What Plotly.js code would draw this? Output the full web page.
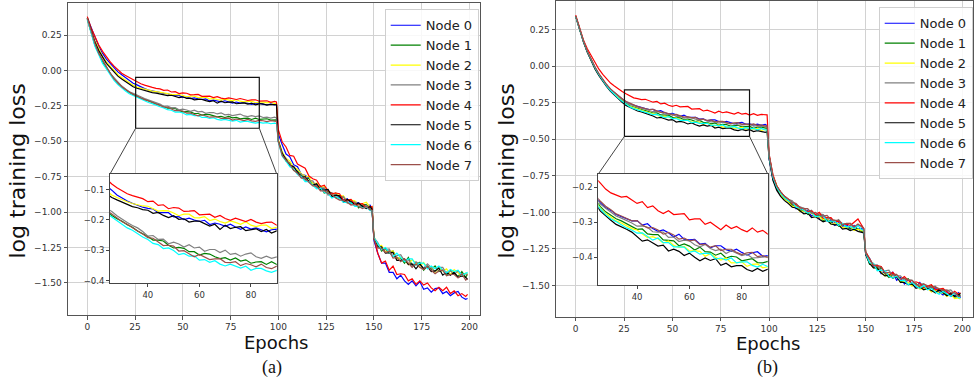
<!DOCTYPE html>
<html><head><meta charset="utf-8">
<script src="https://cdn.plot.ly/plotly-3.0.1.min.js"></script>
<style>html,body{margin:0;padding:0;background:#fff;} #chart{width:974px;height:381px;}</style>
</head><body><div id="chart"></div>
<script>
// ---------------- DATA ----------------
const epochs = [0,2,4,6,8,10,12,14,16,18,20,22,24,26,28,30,32,34,36,38,40,42,44,46,48,50,52,54,56,58,60,62,64,66,68,70,72,74,76,78,80,82,84,86,88,90,92,94,96,98,99,
100,102,104,106,108,110,112,114,116,118,120,122,124,126,128,130,132,134,136,138,140,142,144,146,148,149,
150,152,154,156,158,160,162,164,166,168,170,172,174,176,178,180,182,184,186,188,190,192,194,196,198,199];

const nodeNames = ['Node 0','Node 1','Node 2','Node 3','Node 4','Node 5','Node 6','Node 7'];
const nodeColors = ['#0000ff','#008000','#ffff00','#808080','#ff0000','#000000','#00ffff','#9b4f4a'];

// panel (a)
const a_node0 = [0.37,0.30,0.23,0.17,0.12,0.08,0.05,0.02,-0.01,-0.03,
-0.05,-0.07,-0.09,-0.102,-0.118,-0.128,-0.138,-0.145,-0.152,-0.158,
-0.162,-0.164,-0.176,-0.176,-0.176,-0.19,-0.189,-0.199,-0.194,-0.2,
-0.205,-0.201,-0.215,-0.21,-0.214,-0.221,-0.214,-0.223,-0.231,-0.223,
-0.23,-0.226,-0.232,-0.239,-0.232,-0.23,-0.239,-0.242,-0.237,-0.243,-0.24,
-0.45,-0.525,-0.59,-0.61,-0.665,-0.68,-0.735,-0.74,-0.76,-0.80,
-0.805,-0.84,-0.83,-0.855,-0.88,-0.865,-0.895,-0.915,-0.905,-0.94,
-0.93,-0.935,-0.96,-0.955,-0.95,-0.975,
-1.20,-1.29,-1.36,-1.36,-1.425,-1.425,-1.47,-1.445,-1.485,-1.51,
-1.485,-1.52,-1.49,-1.545,-1.535,-1.565,-1.54,-1.535,-1.575,-1.56,
-1.59,-1.57,-1.56,-1.60,-1.615,-1.61];
const a_node1 = [0.36,0.26,0.18,0.12,0.06,0.02,-0.02,-0.06,-0.09,-0.115,
-0.135,-0.155,-0.17,-0.185,-0.196,-0.204,-0.216,-0.224,-0.236,-0.244,
-0.254,-0.266,-0.266,-0.269,-0.283,-0.292,-0.29,-0.293,-0.304,-0.304,
-0.315,-0.31,-0.312,-0.321,-0.327,-0.324,-0.332,-0.325,-0.335,-0.331,
-0.342,-0.338,-0.337,-0.346,-0.337,-0.346,-0.346,-0.341,-0.35,-0.346,-0.349,
-0.50,-0.58,-0.64,-0.655,-0.705,-0.71,-0.74,-0.77,-0.76,-0.805,
-0.825,-0.815,-0.865,-0.855,-0.865,-0.895,-0.90,-0.89,-0.935,-0.93,
-0.93,-0.97,-0.95,-0.945,-0.98,-0.975,
-1.19,-1.225,-1.275,-1.255,-1.29,-1.275,-1.325,-1.325,-1.36,-1.32,
-1.375,-1.37,-1.355,-1.41,-1.38,-1.405,-1.38,-1.42,-1.41,-1.445,
-1.41,-1.43,-1.455,-1.42,-1.46,-1.435];
const a_node2 = [0.37,0.28,0.21,0.15,0.10,0.06,0.03,0.0,-0.03,-0.05,
-0.07,-0.09,-0.105,-0.118,-0.126,-0.134,-0.14,-0.146,-0.15,-0.154,
-0.155,-0.164,-0.171,-0.169,-0.17,-0.177,-0.186,-0.181,-0.181,-0.192,
-0.193,-0.189,-0.202,-0.197,-0.205,-0.21,-0.203,-0.208,-0.214,-0.206,
-0.217,-0.222,-0.217,-0.217,-0.228,-0.224,-0.222,-0.229,-0.223,-0.234,-0.233,
-0.49,-0.575,-0.62,-0.64,-0.685,-0.695,-0.73,-0.745,-0.75,-0.80,
-0.795,-0.825,-0.82,-0.85,-0.88,-0.865,-0.885,-0.885,-0.92,-0.915,
-0.92,-0.95,-0.94,-0.93,-0.965,-0.96,
-1.17,-1.24,-1.235,-1.28,-1.275,-1.275,-1.33,-1.32,-1.335,-1.37,
-1.335,-1.36,-1.385,-1.355,-1.395,-1.385,-1.425,-1.39,-1.415,-1.40,
-1.44,-1.405,-1.43,-1.45,-1.43,-1.445];
const a_node3 = [0.36,0.26,0.18,0.12,0.07,0.02,-0.02,-0.05,-0.08,-0.11,
-0.13,-0.15,-0.162,-0.172,-0.186,-0.198,-0.208,-0.218,-0.226,-0.238,
-0.253,-0.251,-0.264,-0.263,-0.278,-0.273,-0.279,-0.289,-0.281,-0.292,
-0.289,-0.303,-0.297,-0.297,-0.307,-0.299,-0.313,-0.31,-0.319,-0.312,
-0.308,-0.321,-0.326,-0.319,-0.326,-0.321,-0.332,-0.329,-0.337,-0.33,-0.335,
-0.505,-0.59,-0.62,-0.67,-0.675,-0.725,-0.73,-0.775,-0.78,-0.78,
-0.825,-0.83,-0.83,-0.88,-0.865,-0.88,-0.905,-0.89,-0.925,-0.945,
-0.93,-0.945,-0.965,-0.95,-0.975,-0.965,
-1.18,-1.215,-1.265,-1.265,-1.26,-1.315,-1.305,-1.30,-1.345,-1.335,
-1.38,-1.35,-1.37,-1.395,-1.365,-1.39,-1.42,-1.39,-1.39,-1.435,
-1.415,-1.44,-1.415,-1.445,-1.435,-1.445];
const a_node4 = [0.38,0.30,0.24,0.18,0.135,0.095,0.06,0.03,0.005,-0.02,
-0.035,-0.05,-0.068,-0.082,-0.094,-0.104,-0.114,-0.12,-0.126,-0.13,
-0.14,-0.138,-0.152,-0.15,-0.163,-0.159,-0.161,-0.172,-0.171,-0.169,
-0.183,-0.181,-0.181,-0.191,-0.185,-0.195,-0.201,-0.194,-0.199,-0.205,
-0.198,-0.207,-0.212,-0.208,-0.207,-0.217,-0.216,-0.214,-0.225,-0.219,-0.223,
-0.42,-0.505,-0.54,-0.60,-0.605,-0.66,-0.675,-0.69,-0.745,-0.765,
-0.775,-0.82,-0.81,-0.85,-0.87,-0.865,-0.87,-0.915,-0.915,-0.91,
-0.945,-0.94,-0.94,-0.97,-0.965,-0.96,
-1.18,-1.29,-1.36,-1.345,-1.41,-1.38,-1.44,-1.435,-1.44,-1.485,
-1.47,-1.51,-1.485,-1.515,-1.50,-1.535,-1.555,-1.53,-1.555,-1.53,
-1.575,-1.555,-1.59,-1.575,-1.595,-1.58];
const a_node5 = [0.37,0.28,0.20,0.14,0.09,0.05,0.02,-0.01,-0.04,-0.06,
-0.08,-0.10,-0.115,-0.126,-0.134,-0.142,-0.15,-0.156,-0.16,-0.166,
-0.168,-0.178,-0.175,-0.185,-0.192,-0.186,-0.198,-0.196,-0.207,-0.204,
-0.204,-0.213,-0.22,-0.214,-0.231,-0.217,-0.228,-0.224,-0.222,-0.235,
-0.233,-0.229,-0.238,-0.231,-0.243,-0.236,-0.236,-0.244,-0.24,-0.244,-0.242,
-0.50,-0.585,-0.63,-0.67,-0.68,-0.715,-0.755,-0.75,-0.785,-0.81,
-0.80,-0.84,-0.845,-0.84,-0.89,-0.88,-0.885,-0.93,-0.91,-0.925,
-0.95,-0.935,-0.96,-0.975,-0.96,-0.98,
-1.185,-1.245,-1.245,-1.29,-1.29,-1.285,-1.34,-1.34,-1.33,-1.37,
-1.365,-1.40,-1.365,-1.40,-1.385,-1.42,-1.415,-1.395,-1.445,-1.425,
-1.445,-1.425,-1.46,-1.45,-1.46,-1.475];
const a_node6 = [0.36,0.26,0.17,0.11,0.05,0.01,-0.03,-0.07,-0.10,-0.125,
-0.145,-0.165,-0.178,-0.19,-0.204,-0.214,-0.226,-0.234,-0.246,-0.256,
-0.264,-0.277,-0.281,-0.294,-0.292,-0.3,-0.314,-0.31,-0.319,-0.318,
-0.332,-0.33,-0.339,-0.334,-0.345,-0.351,-0.345,-0.351,-0.358,-0.352,
-0.365,-0.359,-0.359,-0.367,-0.372,-0.366,-0.372,-0.368,-0.376,-0.372,-0.374,
-0.51,-0.605,-0.64,-0.68,-0.695,-0.735,-0.75,-0.785,-0.785,-0.81,
-0.835,-0.83,-0.86,-0.87,-0.90,-0.89,-0.905,-0.93,-0.93,-0.935,
-0.96,-0.96,-0.97,-0.965,-0.99,-0.99,
-1.18,-1.22,-1.265,-1.25,-1.28,-1.315,-1.29,-1.32,-1.35,-1.33,
-1.33,-1.375,-1.36,-1.36,-1.40,-1.38,-1.40,-1.38,-1.41,-1.43,
-1.405,-1.42,-1.41,-1.445,-1.43,-1.425];
const a_node7 = [0.37,0.27,0.19,0.12,0.07,0.02,-0.02,-0.06,-0.09,-0.115,
-0.135,-0.155,-0.17,-0.18,-0.194,-0.206,-0.214,-0.226,-0.236,-0.246,
-0.258,-0.26,-0.273,-0.284,-0.283,-0.286,-0.302,-0.301,-0.311,-0.321,
-0.313,-0.321,-0.33,-0.328,-0.327,-0.339,-0.34,-0.337,-0.35,-0.343,
-0.347,-0.354,-0.345,-0.356,-0.36,-0.352,-0.355,-0.361,-0.354,-0.361,-0.36,
-0.505,-0.60,-0.635,-0.66,-0.705,-0.725,-0.76,-0.76,-0.79,-0.815,
-0.815,-0.85,-0.85,-0.87,-0.875,-0.90,-0.915,-0.915,-0.93,-0.95,
-0.945,-0.96,-0.975,-0.96,-0.985,-0.985,
-1.19,-1.255,-1.255,-1.285,-1.275,-1.325,-1.32,-1.35,-1.33,-1.36,
-1.39,-1.365,-1.39,-1.405,-1.38,-1.41,-1.435,-1.415,-1.41,-1.45,
-1.44,-1.44,-1.465,-1.435,-1.48,-1.47];

// panel (b)
const b_node0 = [0.34,0.25,0.17,0.10,0.04,-0.01,-0.055,-0.095,-0.13,-0.16,
-0.18,-0.205,-0.225,-0.245,-0.258,-0.266,-0.278,-0.284,-0.29,-0.296,
-0.295,-0.308,-0.304,-0.318,-0.326,-0.322,-0.33,-0.342,-0.334,-0.349,
-0.35,-0.349,-0.362,-0.36,-0.373,-0.367,-0.367,-0.378,-0.383,-0.377,
-0.386,-0.394,-0.387,-0.384,-0.397,-0.395,-0.403,-0.396,-0.404,-0.398,-0.406,
-0.63,-0.77,-0.835,-0.885,-0.90,-0.935,-0.935,-0.975,-0.965,-0.995,
-0.985,-1.025,-1.015,-1.04,-1.02,-1.055,-1.055,-1.09,-1.07,-1.095,
-1.085,-1.11,-1.09,-1.115,-1.11,-1.125,
-1.29,-1.315,-1.375,-1.37,-1.42,-1.405,-1.43,-1.41,-1.465,-1.445,
-1.49,-1.46,-1.485,-1.51,-1.48,-1.52,-1.51,-1.54,-1.515,-1.545,
-1.565,-1.54,-1.575,-1.57,-1.55,-1.585];
const b_node1 = [0.34,0.25,0.17,0.10,0.04,-0.01,-0.055,-0.095,-0.13,-0.16,
-0.19,-0.212,-0.236,-0.255,-0.27,-0.28,-0.29,-0.296,-0.304,-0.312,
-0.32,-0.319,-0.333,-0.335,-0.335,-0.35,-0.352,-0.353,-0.367,-0.362,
-0.368,-0.379,-0.371,-0.384,-0.385,-0.394,-0.388,-0.402,-0.397,-0.399,
-0.41,-0.407,-0.404,-0.415,-0.416,-0.412,-0.424,-0.417,-0.417,-0.425,-0.425,
-0.61,-0.76,-0.84,-0.87,-0.91,-0.92,-0.95,-0.95,-0.985,-0.985,
-1.015,-0.995,-1.025,-1.02,-1.055,-1.045,-1.07,-1.055,-1.095,-1.08,
-1.10,-1.115,-1.10,-1.115,-1.13,-1.13,
-1.28,-1.355,-1.35,-1.395,-1.375,-1.42,-1.445,-1.425,-1.43,-1.475,
-1.465,-1.455,-1.50,-1.485,-1.52,-1.505,-1.525,-1.50,-1.55,-1.535,
-1.525,-1.565,-1.55,-1.58,-1.575,-1.565];
const b_node2 = [0.34,0.25,0.17,0.10,0.04,-0.015,-0.06,-0.1,-0.135,-0.165,
-0.19,-0.215,-0.238,-0.26,-0.275,-0.285,-0.296,-0.302,-0.31,-0.318,
-0.322,-0.333,-0.344,-0.341,-0.347,-0.359,-0.353,-0.366,-0.372,-0.369,
-0.382,-0.381,-0.383,-0.397,-0.39,-0.40,-0.408,-0.402,-0.416,-0.415,
-0.413,-0.426,-0.42,-0.419,-0.43,-0.427,-0.432,-0.426,-0.439,-0.433,-0.439,
-0.62,-0.75,-0.82,-0.88,-0.91,-0.93,-0.96,-0.955,-0.995,-0.99,
-1.005,-1.005,-1.035,-1.03,-1.05,-1.04,-1.08,-1.075,-1.075,-1.105,
-1.105,-1.095,-1.125,-1.115,-1.125,-1.13,
-1.28,-1.345,-1.38,-1.375,-1.41,-1.435,-1.42,-1.45,-1.435,-1.48,
-1.475,-1.48,-1.505,-1.49,-1.525,-1.52,-1.52,-1.545,-1.53,-1.555,
-1.55,-1.575,-1.56,-1.59,-1.585,-1.595];
const b_node3 = [0.34,0.25,0.17,0.10,0.04,-0.01,-0.055,-0.095,-0.13,-0.16,
-0.182,-0.206,-0.228,-0.248,-0.26,-0.27,-0.282,-0.288,-0.294,-0.302,
-0.311,-0.31,-0.314,-0.327,-0.328,-0.328,-0.343,-0.342,-0.355,-0.351,
-0.353,-0.364,-0.37,-0.363,-0.375,-0.381,-0.377,-0.389,-0.381,-0.389,
-0.395,-0.391,-0.402,-0.401,-0.399,-0.398,-0.409,-0.406,-0.414,-0.408,-0.414,
-0.60,-0.75,-0.82,-0.86,-0.89,-0.91,-0.92,-0.955,-0.96,-0.97,
-0.995,-0.985,-1.02,-1.01,-1.015,-1.045,-1.04,-1.07,-1.05,-1.08,
-1.08,-1.075,-1.105,-1.09,-1.09,-1.12,
-1.27,-1.32,-1.36,-1.36,-1.40,-1.40,-1.395,-1.435,-1.435,-1.435,
-1.465,-1.46,-1.465,-1.50,-1.49,-1.49,-1.515,-1.51,-1.505,-1.54,
-1.53,-1.535,-1.53,-1.56,-1.56,-1.555];
const b_node4 = [0.35,0.26,0.18,0.12,0.07,0.02,-0.02,-0.055,-0.085,-0.115,
-0.135,-0.155,-0.172,-0.188,-0.205,-0.216,-0.222,-0.228,-0.226,-0.236,
-0.246,-0.241,-0.258,-0.253,-0.267,-0.275,-0.267,-0.278,-0.276,-0.275,
-0.293,-0.29,-0.29,-0.306,-0.30,-0.31,-0.321,-0.308,-0.318,-0.312,
-0.321,-0.327,-0.316,-0.328,-0.323,-0.334,-0.325,-0.336,-0.33,-0.333,-0.333,
-0.60,-0.74,-0.82,-0.86,-0.89,-0.91,-0.94,-0.945,-0.965,-0.98,
-1.00,-0.99,-1.015,-1.00,-1.04,-1.035,-1.035,-1.065,-1.06,-1.08,
-1.08,-1.09,-1.07,-1.045,-1.09,-1.11,
-1.27,-1.315,-1.365,-1.365,-1.37,-1.41,-1.43,-1.41,-1.44,-1.46,
-1.44,-1.465,-1.485,-1.475,-1.485,-1.515,-1.505,-1.495,-1.53,-1.525,
-1.52,-1.545,-1.565,-1.54,-1.56,-1.55];
const b_node5 = [0.34,0.25,0.165,0.095,0.035,-0.02,-0.065,-0.105,-0.14,-0.172,
-0.198,-0.222,-0.246,-0.268,-0.282,-0.294,-0.306,-0.312,-0.32,-0.328,
-0.34,-0.354,-0.35,-0.359,-0.368,-0.365,-0.382,-0.377,-0.383,-0.395,
-0.388,-0.40,-0.41,-0.402,-0.409,-0.404,-0.423,-0.417,-0.427,-0.424,
-0.424,-0.435,-0.44,-0.432,-0.44,-0.434,-0.447,-0.441,-0.447,-0.452,-0.448,
-0.63,-0.78,-0.85,-0.89,-0.92,-0.94,-0.965,-0.97,-0.99,-1.01,
-1.005,-1.035,-1.03,-1.045,-1.065,-1.055,-1.08,-1.085,-1.085,-1.115,
-1.11,-1.125,-1.115,-1.13,-1.14,-1.14,
-1.29,-1.35,-1.38,-1.38,-1.415,-1.435,-1.43,-1.45,-1.44,-1.48,
-1.48,-1.495,-1.49,-1.52,-1.51,-1.53,-1.52,-1.535,-1.55,-1.53,
-1.55,-1.57,-1.555,-1.575,-1.565,-1.555];
const b_node6 = [0.34,0.25,0.17,0.10,0.04,-0.012,-0.058,-0.1,-0.135,-0.166,
-0.194,-0.218,-0.24,-0.262,-0.278,-0.29,-0.298,-0.308,-0.316,-0.322,
-0.331,-0.33,-0.341,-0.351,-0.345,-0.358,-0.358,-0.37,-0.37,-0.371,
-0.386,-0.382,-0.391,-0.388,-0.39,-0.405,-0.402,-0.408,-0.402,-0.416,
-0.413,-0.413,-0.423,-0.428,-0.42,-0.427,-0.425,-0.435,-0.426,-0.436,-0.435,
-0.62,-0.76,-0.83,-0.87,-0.90,-0.92,-0.93,-0.965,-0.97,-0.985,
-1.005,-1.00,-1.03,-1.025,-1.025,-1.06,-1.06,-1.06,-1.09,-1.075,
-1.10,-1.095,-1.11,-1.09,-1.12,-1.12,
-1.28,-1.345,-1.35,-1.40,-1.395,-1.40,-1.435,-1.45,-1.435,-1.465,
-1.465,-1.495,-1.48,-1.505,-1.52,-1.50,-1.53,-1.52,-1.545,-1.56,
-1.54,-1.56,-1.575,-1.55,-1.585,-1.585];
const b_node7 = [0.345,0.255,0.175,0.105,0.045,-0.005,-0.05,-0.09,-0.125,-0.155,
-0.178,-0.2,-0.222,-0.24,-0.254,-0.264,-0.276,-0.282,-0.29,-0.296,
-0.295,-0.308,-0.316,-0.315,-0.322,-0.334,-0.329,-0.336,-0.348,-0.345,
-0.353,-0.35,-0.364,-0.362,-0.371,-0.367,-0.381,-0.377,-0.377,-0.386,
-0.392,-0.387,-0.386,-0.398,-0.395,-0.401,-0.395,-0.404,-0.401,-0.41,-0.408,
-0.61,-0.75,-0.82,-0.86,-0.89,-0.91,-0.93,-0.94,-0.97,-0.975,
-0.975,-1.005,-1.00,-1.02,-1.025,-1.02,-1.05,-1.055,-1.055,-1.085,
-1.075,-1.075,-1.10,-1.08,-1.10,-1.11,
-1.28,-1.32,-1.36,-1.37,-1.375,-1.415,-1.41,-1.425,-1.425,-1.455,
-1.45,-1.465,-1.465,-1.49,-1.505,-1.49,-1.505,-1.515,-1.51,-1.525,
-1.535,-1.53,-1.55,-1.55,-1.575,-1.575];

const mainTicksX = [0,25,50,75,100,125,150,175,200];
const mainTicksY = [0.25,0,-0.25,-0.5,-0.75,-1,-1.25,-1.5];
const insetTicksX = [40,60,80];
const insetTicksYA = [-0.1,-0.2,-0.3,-0.4];
const insetTicksYB = [-0.2,-0.3,-0.4];
const panelLabels = ['(a)','(b)'];

const seriesA = [a_node0,a_node1,a_node2,a_node3,a_node4,a_node5,a_node6,a_node7];
const seriesB = [b_node0,b_node1,b_node2,b_node3,b_node4,b_node5,b_node6,b_node7];

// ---------------- LAYOUT ----------------
const W = 974, H = 381;
const px = v => v / W;
const py = v => 1 - v / H;

const mainA = {x:[px(68), px(480)], y:[py(315), py(3)], xr:[-10.1, 205.5], yr:[-1.726, 0.476]};
const mainB = {x:[px(556), px(973)], y:[py(316.7), py(0.5)], xr:[-10.2, 205.5], yr:[-1.714, 0.45]};
const insA = {x:[px(110), px(276.7)], y:[py(283.3), py(174)], xr:[25.3, 90], yr:[-0.408, -0.049]};
const insB = {x:[px(598.3), px(767.7)], y:[py(285.3), py(174)], xr:[25.2, 89.9], yr:[-0.48, -0.162]};

const tickFont = {family:'DejaVu Sans', size:9, color:'#333'};
const insetTickFont = {family:'DejaVu Sans', size:8.5, color:'#333'};

function mainAxis(dom, rng, anchor, tv, fmt){
  return {domain:dom, range:rng, anchor:anchor, tickvals:tv, tickformat:fmt,
    showgrid:true, gridcolor:'#d2d2d2', gridwidth:1, zeroline:false,
    showline:true, mirror:true, linecolor:'#555', linewidth:1,
    ticks:'outside', ticklen:3.5, tickwidth:1, tickcolor:'#555',
    tickfont:tickFont, fixedrange:true};
}
function insetAxis(dom, rng, anchor, tv, fmt){
  return {domain:dom, range:rng, anchor:anchor, tickvals:tv, tickformat:fmt,
    showgrid:false, zeroline:false,
    showline:true, mirror:true, linecolor:'#444', linewidth:1,
    ticks:'outside', ticklen:3, tickwidth:1, tickcolor:'#444',
    tickfont:insetTickFont, fixedrange:true};
}

const traces = [];
function addPanel(series, xa, ya, xi, yi, legendId){
  series.forEach((s,i)=>{
    traces.push({x:epochs, y:s, type:'scatter', mode:'lines', name:nodeNames[i],
      xaxis:xa, yaxis:ya, legend:legendId,
      line:{color:nodeColors[i], width:1.2}, hoverinfo:'skip'});
  });
  series.forEach((s,i)=>{
    traces.push({x:epochs, y:s, type:'scatter', mode:'lines', name:nodeNames[i],
      xaxis:xi, yaxis:yi, showlegend:false,
      line:{color:nodeColors[i], width:1.2}, hoverinfo:'skip'});
  });
}
addPanel(seriesA, 'x', 'y', 'x3', 'y3', 'legend');
addPanel(seriesB, 'x2', 'y2', 'x4', 'y4', 'legend2');

function toPaper(dom, rng, v){ return dom[0] + (v - rng[0])/(rng[1]-rng[0])*(dom[1]-dom[0]); }

const shapes = [];
function insetDecor(main, ins, xref, yref, ixref, iyref){
  shapes.push({type:'rect', xref:ixref, yref:iyref, x0:ins.xr[0], x1:ins.xr[1], y0:ins.yr[0], y1:ins.yr[1],
    fillcolor:'#ffffff', line:{width:0}, layer:'below'});
  shapes.push({type:'rect', xref:xref, yref:yref, x0:ins.xr[0], x1:ins.xr[1], y0:ins.yr[0], y1:ins.yr[1],
    line:{color:'#111', width:1.2}, fillcolor:'rgba(0,0,0,0)', layer:'above'});
  const bl = [toPaper(main.x, main.xr, ins.xr[0]), toPaper(main.y, main.yr, ins.yr[0])];
  const br = [toPaper(main.x, main.xr, ins.xr[1]), toPaper(main.y, main.yr, ins.yr[0])];
  shapes.push({type:'line', xref:'paper', yref:'paper', x0:bl[0], y0:bl[1], x1:ins.x[0], y1:ins.y[1],
    line:{color:'#444', width:1}, layer:'above'});
  shapes.push({type:'line', xref:'paper', yref:'paper', x0:br[0], y0:br[1], x1:ins.x[1], y1:ins.y[1],
    line:{color:'#444', width:1}, layer:'above'});
}
insetDecor(mainA, insA, 'x', 'y', 'x3', 'y3');
insetDecor(mainB, insB, 'x2', 'y2', 'x4', 'y4');

const titleFontY = {family:'DejaVu Sans', size:22, color:'#111'};
const titleFontX = {family:'DejaVu Sans', size:18, color:'#111'};
const labelFont = {family:'Liberation Serif', size:18, color:'#111'};

const annotations = [
  {text:'log training loss', xref:'paper', yref:'paper', x:px(17), y:py(171.5), textangle:-90, showarrow:false, font:titleFontY, xanchor:'center', yanchor:'middle'},
  {text:'log training loss', xref:'paper', yref:'paper', x:px(506), y:py(171.5), textangle:-90, showarrow:false, font:titleFontY, xanchor:'center', yanchor:'middle'},
  {text:'Epochs', xref:'paper', yref:'paper', x:px(276.5), y:py(342.5), showarrow:false, font:titleFontX, xanchor:'center', yanchor:'middle'},
  {text:'Epochs', xref:'paper', yref:'paper', x:px(768), y:py(343.5), showarrow:false, font:titleFontX, xanchor:'center', yanchor:'middle'},
  {text:panelLabels[0], xref:'paper', yref:'paper', x:px(271.7), y:py(367.5), showarrow:false, font:labelFont, xanchor:'center', yanchor:'middle'},
  {text:panelLabels[1], xref:'paper', yref:'paper', x:px(767.7), y:py(367.5), showarrow:false, font:labelFont, xanchor:'center', yanchor:'middle'}
];

const legendStyle = {bgcolor:'rgba(255,255,255,0.85)', bordercolor:'#cfcfcf', borderwidth:1,
  font:{family:'DejaVu Sans', size:13, color:'#222'}, xanchor:'right', yanchor:'top', traceorder:'normal', itemwidth:30};

const layout = {
  width:W, height:H, margin:{l:0, r:0, t:0, b:0},
  paper_bgcolor:'#ffffff', plot_bgcolor:'#ffffff', showlegend:true,
  font:{family:'DejaVu Sans', color:'#333'},
  xaxis: mainAxis(mainA.x, mainA.xr, 'y', mainTicksX, 'd'),
  yaxis: mainAxis(mainA.y, mainA.yr, 'x', mainTicksY, '.2f'),
  xaxis2: mainAxis(mainB.x, mainB.xr, 'y2', mainTicksX, 'd'),
  yaxis2: mainAxis(mainB.y, mainB.yr, 'x2', mainTicksY, '.2f'),
  xaxis3: insetAxis(insA.x, insA.xr, 'y3', insetTicksX, 'd'),
  yaxis3: insetAxis(insA.y, insA.yr, 'x3', insetTicksYA, '.1f'),
  xaxis4: insetAxis(insB.x, insB.xr, 'y4', insetTicksX, 'd'),
  yaxis4: insetAxis(insB.y, insB.yr, 'x4', insetTicksYB, '.1f'),
  legend: Object.assign({x:px(478.7), y:py(9.3)}, legendStyle),
  legend2: Object.assign({x:px(972.7), y:py(7.3)}, legendStyle),
  shapes: shapes,
  annotations: annotations
};

Plotly.newPlot('chart', traces, layout, {displayModeBar:false, staticPlot:true});
</script>
</body></html>
